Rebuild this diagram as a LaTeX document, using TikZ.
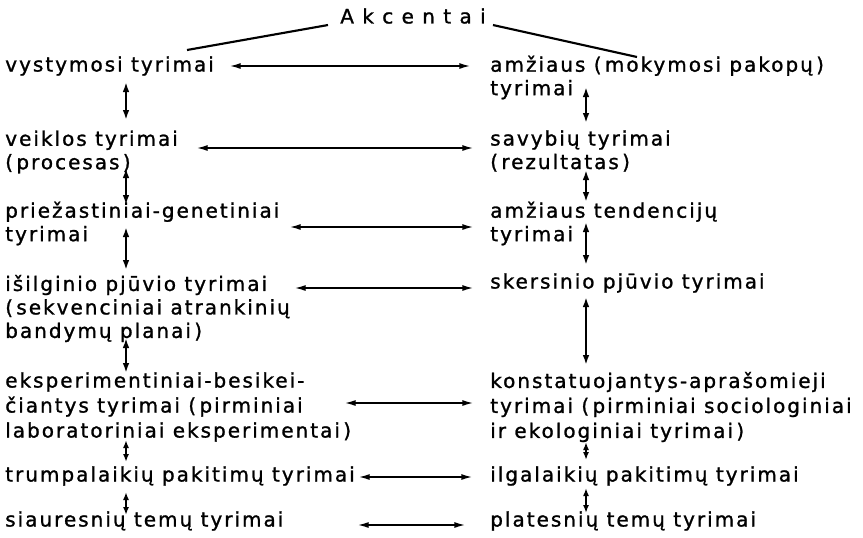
\documentclass[tikz,border=0pt]{standalone}
\usepackage{fontspec}
\setmainfont{DejaVu Sans}[LetterSpace=10,FakeBold=1.2]
\usetikzlibrary{arrows.meta,calc}
\begin{document}
\begin{tikzpicture}[x=0.75pt,y=-0.75pt,
  lbl/.style={anchor=west,inner sep=0pt,align=left,font=\fontsize{15pt}{17.6pt}\selectfont},
  lbl3/.style={lbl,font=\fontsize{15pt}{18.75pt}\selectfont},
  harrow/.style={{Latex[length=8pt,width=4.5pt]}-{Latex[length=8pt,width=4.5pt]},line width=1pt},
  varrow/.style={{Latex[length=7.5pt,width=5pt]}-{Latex[length=7.5pt,width=5pt]},line width=1.5pt},
  varrowshort/.style={{Latex[length=6pt,width=4.5pt]}-{Latex[length=6pt,width=4.5pt]},line width=1.5pt},
  tline/.style={line width=1.6pt}]
\useasboundingbox (0,0) rectangle (863,537);
\node[lbl,anchor=center] (title) at (413,16) {A k c e n t a i};
\coordinate (la) at (187,50);
\coordinate (ra) at (637,57);
\draw[tline] ($(title.south west)+(-12,1)$) -- (la);
\draw[tline] ($(title.south east)+(7,1)$) -- (ra);
% left column
\node[lbl] (l1) at (5,66) {vystymosi tyrimai};
\node[lbl] (l2) at (5,152) {veiklos tyrimai\\(\,procesas\,)};
\node[lbl] (l3) at (5,223.5) {priežastiniai-genetiniai\\tyrimai};
\node[lbl] (l4) at (5,308.5) {išilginio pjūvio tyrimai\\(\,sekvenciniai atrankinių\\bandymų planai\,)};
\node[lbl3] (l5) at (5,407) {eksperimentiniai-besikei-\\čiantys tyrimai (\,pirminiai\\laboratoriniai eksperimentai\,)};
\node[lbl] (l6) at (5,476) {trumpalaikių pakitimų tyrimai};
\node[lbl] (l7) at (5,521) {siauresnių temų tyrimai};
% right column
\node[lbl] (r1) at (490,77.5) {amžiaus (\,mokymosi pakopų\,)\\tyrimai};
\node[lbl] (r2) at (490,151) {savybių tyrimai\\(\,rezultatas\,)};
\node[lbl] (r3) at (490,223.5) {amžiaus tendencijų\\tyrimai};
\node[lbl] (r4) at (490,283) {skersinio pjūvio tyrimai};
\node[lbl3] (r5) at (490,407) {konstatuojantys-aprašomieji\\tyrimai (\,pirminiai sociologiniai\\ir ekologiniai tyrimai\,)};
\node[lbl] (r6) at (490,476) {ilgalaikių pakitimų tyrimai};
\node[lbl] (r7) at (490,521) {platesnių temų tyrimai};
% horizontal arrows
\draw[harrow] ($(l1.west)+(225,0)$) -- ($(r1.west |- l1.west)+(-20,0)$);
\draw[harrow] ($(l2.west)+(192,-4)$) -- ($(r2.west |- l2.west)+(-17,-4)$);
\draw[harrow] ($(l3.west)+(285,3.5)$) -- ($(r3.west)+(-17,3.5)$);
\draw[harrow] ($(l4.west |- r4.west)+(290,5)$) -- ($(r4.west)+(-17,5)$);
\draw[harrow] ($(l5.west)+(340,-4)$) -- ($(r5.west)+(-17,-4)$);
\draw[harrow] ($(l6.west)+(354,1)$) -- ($(r6.west)+(-18,1)$);
\draw[harrow] ($(l7.west)+(353,4)$) -- ($(r7.west)+(-25,4)$);
% vertical arrows
\coordinate (lax) at (126,0);
\coordinate (rax) at (586,0);
\draw[varrow] ($(lax |- l1.west)+(0,16)$) -- ($(lax |- l2.west)+(0,-32)$);
\draw[varrow] ($(lax |- l2.west)+(0,16)$) -- ($(lax |- l3.west)+(0,-18.5)$);
\draw[varrow] ($(lax |- l3.west)+(0,3.5)$) -- ($(lax |- l4.west)+(0,-38.5)$);
\draw[varrow] ($(lax |- l4.west)+(0,29.5)$) -- ($(lax |- l5.west)+(0,-34)$);
\draw[varrowshort] ($(lax |- l5.west)+(0,33)$) -- ($(lax |- l6.west)+(0,-14)$);
\draw[varrowshort] ($(lax |- l6.west)+(0,16)$) -- ($(lax |- l7.west)+(0,-6)$);
\draw[varrow] ($(rax |- r1.west)+(0,9.5)$) -- ($(rax |- r2.west)+(0,-28)$);
\draw[varrow] ($(rax |- r2.west)+(0,19)$) -- ($(rax |- r3.west)+(0,-21.5)$);
\draw[varrow] ($(rax |- r3.west)+(0,-1.5)$) -- ($(rax |- r4.west)+(0,-18)$);
\draw[varrow] ($(rax |- r4.west)+(0,14)$) -- ($(rax |- r5.west)+(0,-42)$);
\draw[varrowshort] ($(rax |- r5.west)+(0,35)$) -- ($(rax |- r6.west)+(0,-16)$);
\draw[varrowshort] ($(rax |- r6.west)+(0,12)$) -- ($(rax |- r7.west)+(0,-8)$);
\end{tikzpicture}
\end{document}
